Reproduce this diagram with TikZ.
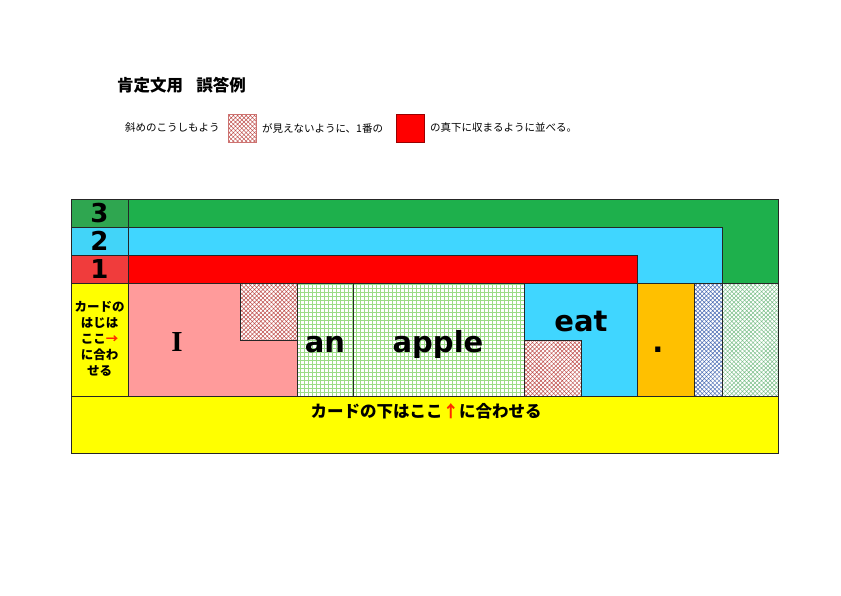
\documentclass[tikz,border=0pt]{standalone}
\usepackage{fontspec}
\setmainfont{Liberation Sans}
\newfontfamily\jp{Noto Sans CJK JP}
\newfontfamily\wordfont{DejaVu Sans}
\newfontfamily\serifword{Liberation Serif}
\usetikzlibrary{patterns.meta}
\usepackage{xcolor}
\definecolor{bandgreen}{HTML}{1EB04C}
\definecolor{cellgreen}{HTML}{2FA650}
\definecolor{bandblue}{HTML}{40D6FF}
\definecolor{cellblue}{HTML}{42D4F8}
\definecolor{bandred}{HTML}{FF0000}
\definecolor{cellred}{HTML}{F03C3C}
\definecolor{guide}{HTML}{FFFF00}
\definecolor{pinkcard}{HTML}{FF9B9B}
\definecolor{orangecard}{HTML}{FFC000}
\definecolor{gridgreen}{HTML}{9BDC86}
\definecolor{hatchred}{HTML}{C0504D}
\definecolor{hatchblue}{HTML}{4A6CB4}
\definecolor{hatchgreen}{HTML}{7CC08A}
\definecolor{ink}{HTML}{262626}
\definecolor{arrowred}{HTML}{FF2A00}
\tikzset{
  every node/.style={text=black},
  cell/.style={draw=ink,line width=0.8pt,anchor=north west,inner sep=0pt,outer sep=0pt},
  card/.style={cell,minimum height=113pt},
  gridcard/.style={card,fill=white},
  gridline/.style={draw=gridgreen,line width=0.6pt,step=4pt},
  hatchbox/.style={cell,preaction={fill=white},pattern={Hatch[angle=45,distance=3pt,line width=0.5pt]}},
  rownum/.style={font=\wordfont\bfseries\fontsize{26}{26}\selectfont,inner sep=0pt},
  word/.style={font=\wordfont\bfseries\fontsize{29}{29}\selectfont,anchor=base,inner sep=0pt},
  guidetext/.style={font=\jp\bfseries\fontsize{12.5}{16}\selectfont,align=center,inner sep=0pt},
  legend/.style={font=\jp\fontsize{10.5}{12}\selectfont,anchor=west,inner sep=0pt},
}

\begin{document}
\begin{tikzpicture}[x=1pt,y=-1pt]
  \useasboundingbox[fill=white] (0,0) rectangle (841,595);

  % Title and legend
  \node[font=\jp\bfseries\fontsize{16.5}{18}\selectfont,anchor=west,inner sep=0pt] (title) at (117,85) {肯定文用\hspace{0.8em}誤答例};
  \node[legend] (lg1) at (125,128) {斜めのこうしもよう};
  \node[hatchbox,pattern color=hatchred,minimum width=28pt,minimum height=28pt,draw=hatchred!80] (lgh) at (228,114) {};
  \node[legend] (lg2) at (262,128) {が見えないように、1番の};
  \node[cell,fill=bandred,draw=red!60!black,minimum width=28pt,minimum height=28pt] (lgr) at (396,114) {};
  \node[legend] (lg3) at (430,128) {の真下に収まるように並べる。};

  % Bands 3, 2, 1
  \node[cell,fill=bandgreen,minimum width=650pt,minimum height=84pt] (b3) at (128,199) {};
  \node[cell,fill=bandblue,minimum width=594pt,minimum height=56pt] (b2) at (128,227) {};
  \node[cell,fill=bandred,minimum width=509pt,minimum height=28pt] (b1) at (128,255) {};
  \node[cell,fill=cellgreen,minimum width=57pt,minimum height=28pt] (n3) at (71,199) {};
  \node[cell,fill=cellblue,minimum width=57pt,minimum height=28pt] (n2) at (71,227) {};
  \node[cell,fill=cellred,minimum width=57pt,minimum height=28pt] (n1) at (71,255) {};
  \node[rownum] at (n3.center) {3};
  \node[rownum] at (n2.center) {2};
  \node[rownum] at (n1.center) {1};

  % Cards
  \node[card,fill=guide,minimum width=57pt] (start) at (71,283) {};
  \node[guidetext] at ([yshift=1pt]start.center) {カードの\\はじは\\ここ{\color{arrowred}→}\\に合わ\\せる};
  \node[card,fill=pinkcard,minimum width=169pt] (ci) at (128,283) {};
  \node[hatchbox,pattern color=hatchred,minimum width=57pt,minimum height=57pt] (hi) at (240,283) {};
  \node[gridcard,minimum width=56pt] (can) at (297,283) {};
  \node[gridcard,minimum width=171pt] (capple) at (353,283) {};
  \begin{scope}
    \clip (can.north west) rectangle (capple.south east);
    \draw[gridline] (can.north west) grid (capple.south east);
  \end{scope}
  \draw[ink,line width=0.8pt] (can.north west) rectangle (can.south east);
  \draw[ink,line width=0.8pt] (capple.north west) rectangle (capple.south east);
  \node[card,fill=bandblue,minimum width=113pt] (ceat) at (524,283) {};
  \node[hatchbox,pattern color=hatchred,minimum width=57pt,minimum height=56pt] (heat) at (524,340) {};
  \node[card,fill=orangecard,minimum width=57pt] (cdot) at (637,283) {};
  \node[card,hatchbox,pattern color=hatchblue,minimum width=28pt] (hblue) at (694,283) {};
  \node[card,hatchbox,pattern color=hatchgreen,minimum width=56pt] (hgreen) at (722,283) {};

  \node[font=\serifword\bfseries\fontsize{29}{29}\selectfont,anchor=base,inner sep=0pt] (wi) at (177,351) {I};
  \node[word] (wan) at (325,352) {an};
  \node[word] (wapple) at (438,352) {apple};
  \node[word] (weat) at (581,331) {eat};
  \node[word] (wdot) at (658,352) {.};

  % Bottom guide
  \node[cell,fill=guide,minimum width=707pt,minimum height=57pt] (bottom) at (71,396) {};
  \node[font=\jp\bfseries\fontsize{16.5}{18}\selectfont,inner sep=0pt] (btext) at (426,411) {カードの下はここ{\color{arrowred}↑}に合わせる};
\end{tikzpicture}
\end{document}
